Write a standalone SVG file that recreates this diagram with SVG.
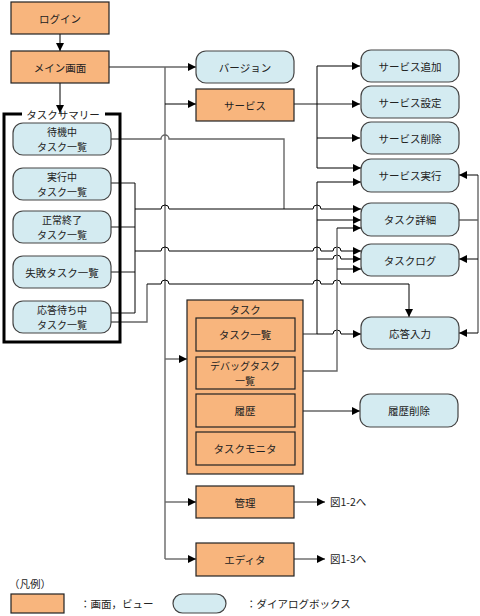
<svg xmlns="http://www.w3.org/2000/svg" width="480" height="616" viewBox="0 0 480 616">
<defs>
<marker id="ah" viewBox="0 0 10 10" refX="10" refY="5" markerWidth="9" markerHeight="8" markerUnits="userSpaceOnUse" orient="auto">
<path d="M0,0 L10,5 L0,10 z" fill="#000"/>
</marker>
</defs>
<style>
.scr{fill:#F8B57D;stroke:#222;stroke-width:1.2}
.dlg{fill:#D4EBF1;stroke:#444;stroke-width:1.2}
.t{font-family:"Noto Sans CJK JP","Noto Sans",sans-serif;font-size:10.5px;fill:#222;text-anchor:middle;dominant-baseline:central}
.t2{font-size:10px}
.tl{font-family:"Noto Sans CJK JP","Noto Sans",sans-serif;font-size:10.5px;fill:#222;dominant-baseline:central}
.g{fill:none;stroke:#666;stroke-width:1.4}
.k{fill:none;stroke:#000;stroke-width:1}
.a{marker-end:url(#ah)}
</style>
<rect width="480" height="616" fill="#fff"/>

<g id="connectors">
<path class="k a" d="M60 34 V51"/>
<path class="k a" d="M60 83 V113"/>
<path class="g a" d="M109 67 H196"/>
<path class="g" d="M165 67 V559"/>
<path class="k a" d="M165 104 H196"/>
<path class="g a" d="M165 359 H187"/>
<path class="g a" d="M165 502 H196"/>
<path class="g a" d="M165 559 H196"/>
<path class="g a" d="M294 502 H325"/>
<path class="g a" d="M294 559 H325"/>
<path class="g a" d="M294 104 H360"/>
<path class="k" d="M317 66 V168"/>
<path class="k a" d="M317 66 H360"/>
<path class="k a" d="M317 138 H360"/>
<path class="k a" d="M317 168 H361"/>
<path class="g" d="M111 139 H161 A4 4 0 0 1 169 139 H284 V209"/>
<path class="g" d="M111 183 H135 M111 227 H135 M111 272 H135 M111 313 H135"/>
<path class="k" d="M135 183 V313"/>
<path class="k a" d="M135 209 H161 A4 4 0 0 1 169 209 H313 A4 4 0 0 1 321 209 H361"/>
<path class="k a" d="M135 251 H161 A4 4 0 0 1 169 251 H313 A4 4 0 0 1 321 251 H333 A4 4 0 0 1 341 251 H361"/>
<path class="g" d="M111 322 H147 V284"/>
<path class="k a" d="M147 284 H161 A4 4 0 0 1 169 284 H313 A4 4 0 0 1 321 284 H333 A4 4 0 0 1 341 284 H409 V317"/>
<path class="g" d="M295 334 H317"/>
<path class="k a" d="M317 334 H333 A4 4 0 0 1 341 334 H361"/>
<path class="k" d="M317 334 V182"/>
<path class="k a" d="M317 182 H361"/>
<path class="k a" d="M317 220 H361"/>
<path class="k a" d="M317 259 H333 A4 4 0 0 1 341 259 H361"/>
<path class="g" d="M295 371 H337 V228"/>
<path class="k a" d="M337 228 H361"/>
<path class="k a" d="M337 269 H361"/>
<path class="g a" d="M295 411 H360"/>
<path class="g" d="M459 220 H478 M478 175 V333"/>
<path class="k a" d="M478 175 H459"/>
<path class="k a" d="M478 259 H459"/>
<path class="k a" d="M478 333 H459"/>
</g>

<g id="login"><rect class="scr" x="11" y="2" width="98" height="32"/><text class="t" x="60" y="18">ログイン</text></g>
<g id="main"><rect class="scr" x="11" y="51" width="98" height="32"/><text class="t" x="60" y="67">メイン画面</text></g>

<g id="summary">
<path d="M22 114 H4 V342 H120 V114 H105" fill="none" stroke="#000" stroke-width="3"/>
<text class="t" x="63" y="114">タスクサマリー</text>
</g>
<g id="waiting"><rect class="dlg" x="13" y="123" width="98" height="32" rx="10"/><text class="t t2" x="62" y="131.75">待機中</text><text class="t t2" x="62" y="146.25">タスク一覧</text></g>
<g id="running"><rect class="dlg" x="13" y="168" width="98" height="32" rx="10"/><text class="t t2" x="62" y="176.75">実行中</text><text class="t t2" x="62" y="191.25">タスク一覧</text></g>
<g id="done"><rect class="dlg" x="13" y="211" width="98" height="32" rx="10"/><text class="t t2" x="62" y="219.75">正常終了</text><text class="t t2" x="62" y="234.25">タスク一覧</text></g>
<g id="failed"><rect class="dlg" x="13" y="256" width="98" height="32" rx="10"/><text class="t" x="62" y="272">失敗タスク一覧</text></g>
<g id="awaiting"><rect class="dlg" x="13" y="301" width="98" height="32" rx="10"/><text class="t t2" x="62" y="309.75">応答待ち中</text><text class="t t2" x="62" y="324.25">タスク一覧</text></g>

<g id="version"><rect class="dlg" x="196" y="51" width="98" height="32" rx="10"/><text class="t" x="245" y="67">バージョン</text></g>
<g id="service"><rect class="scr" x="196" y="89" width="98" height="32"/><text class="t" x="245" y="105">サービス</text></g>

<g id="svc-add"><rect class="dlg" x="361" y="50" width="98" height="32" rx="10"/><text class="t" x="410" y="66">サービス追加</text></g>
<g id="svc-set"><rect class="dlg" x="361" y="86" width="98" height="32" rx="10"/><text class="t" x="410" y="102">サービス設定</text></g>
<g id="svc-del"><rect class="dlg" x="361" y="122" width="98" height="32" rx="10"/><text class="t" x="410" y="138">サービス削除</text></g>
<g id="svc-run"><rect class="dlg" x="361" y="159" width="98" height="33" rx="10"/><text class="t" x="410" y="175">サービス実行</text></g>
<g id="task-detail"><rect class="dlg" x="361" y="203" width="98" height="33" rx="10"/><text class="t" x="410" y="219">タスク詳細</text></g>
<g id="task-log"><rect class="dlg" x="361" y="244" width="98" height="32" rx="10"/><text class="t" x="410" y="260">タスクログ</text></g>
<g id="answer"><rect class="dlg" x="361" y="317" width="98" height="32" rx="10"/><text class="t" x="410" y="333">応答入力</text></g>
<g id="hist-del"><rect class="dlg" x="360" y="394" width="98" height="33" rx="10"/><text class="t" x="409" y="410">履歴削除</text></g>

<g id="task">
<rect class="scr" x="187" y="300" width="116" height="174"/>
<text class="t" x="245" y="309">タスク</text>
</g>
<g id="task-list"><rect class="scr" x="196" y="318" width="99" height="33"/><text class="t" x="245" y="334">タスク一覧</text></g>
<g id="debug"><rect class="scr" x="196" y="357" width="99" height="32"/><text class="t t2" x="245" y="365.75">デバッグタスク</text><text class="t t2" x="245" y="380.25">一覧</text></g>
<g id="history"><rect class="scr" x="196" y="394" width="99" height="33"/><text class="t" x="245" y="410">履歴</text></g>
<g id="monitor"><rect class="scr" x="196" y="432" width="99" height="33"/><text class="t" x="245" y="448">タスクモニタ</text></g>

<g id="admin"><rect class="scr" x="196" y="486" width="98" height="32"/><text class="t" x="245" y="502">管理</text></g>
<g id="editor"><rect class="scr" x="196" y="543" width="98" height="33"/><text class="t" x="245" y="559">エディタ</text></g>
<text class="tl" x="330" y="501">図1-2へ</text>
<text class="tl" x="330" y="558">図1-3へ</text>

<g id="legend">
<text class="tl" x="9" y="583">（凡例）</text>
<rect class="scr" x="11" y="594" width="53" height="19"/>
<text class="tl" x="80" y="603">：画面，ビュー</text>
<rect class="dlg" x="173" y="594" width="53" height="19" rx="9.5"/>
<text class="tl" x="246" y="603">：ダイアログボックス</text>
</g>
</svg>
